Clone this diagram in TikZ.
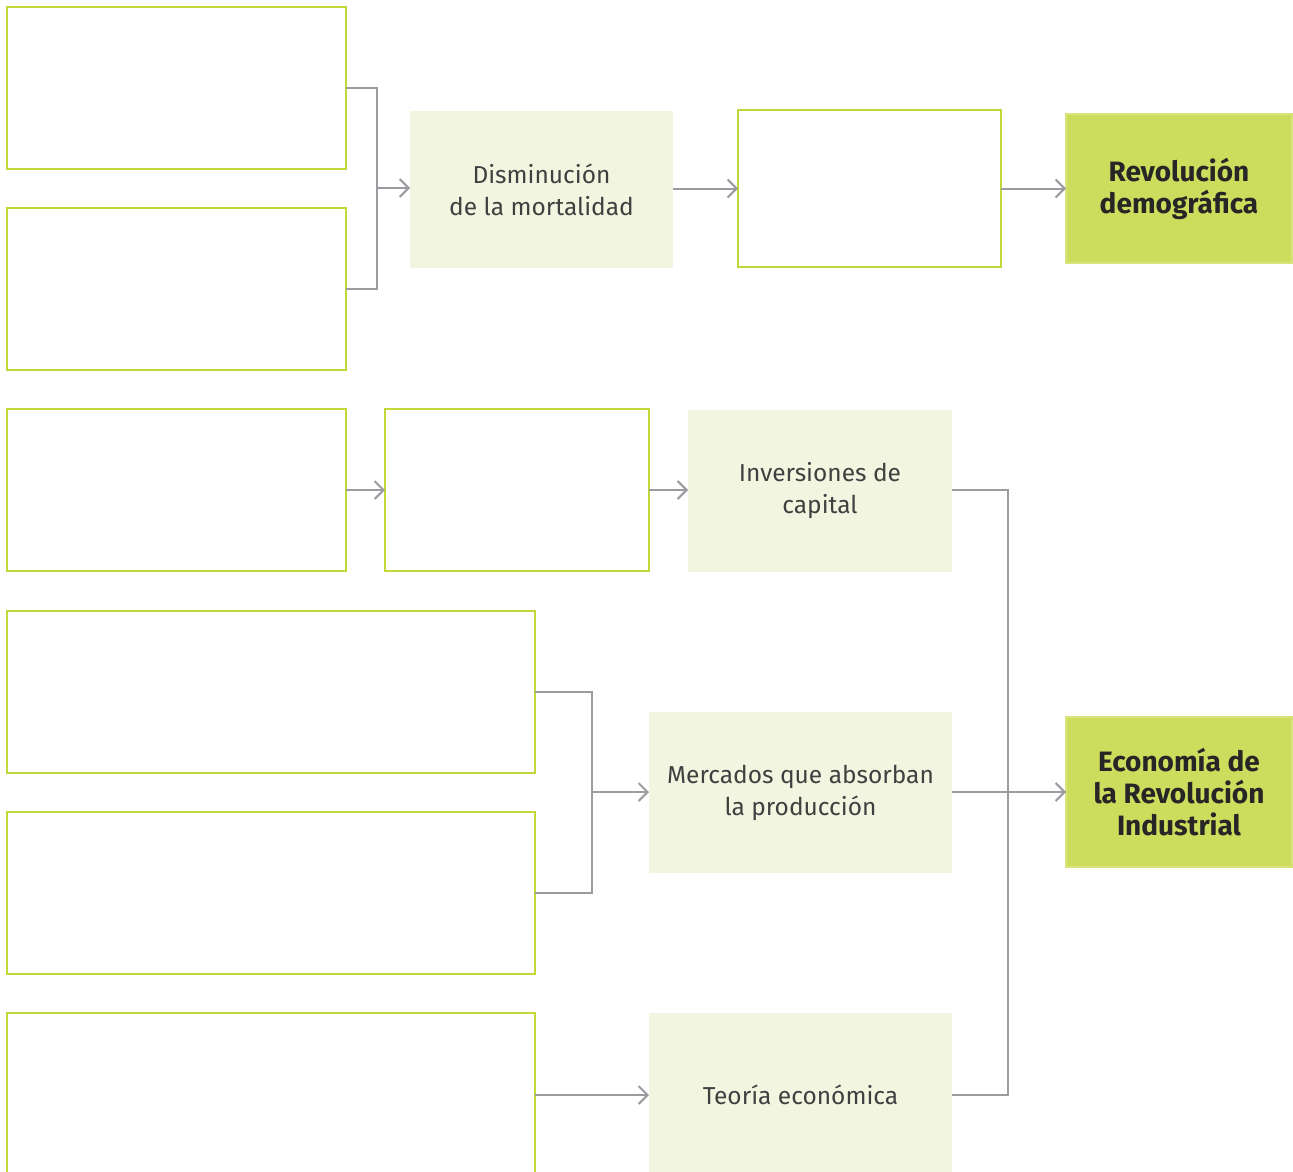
\documentclass[tikz,border=0pt]{standalone}
\usepackage{fontspec}
\setmainfont{Fira Sans}
\usetikzlibrary{arrows.meta}
\definecolor{gborder}{HTML}{C3D838}
\definecolor{lightfill}{HTML}{F2F6E0}
\definecolor{darkfill}{HTML}{CCDC5C}
\definecolor{darkborder}{HTML}{D6E47A}
\definecolor{lgray}{HTML}{9B9BA0}
\begin{document}
\begin{tikzpicture}[x=1pt,y=-1pt,
  every node/.style={outer sep=0pt,inner sep=0pt,anchor=north west},
  emptybox/.style={draw=gborder,line width=2pt,fill=white},
  softbox/.style={fill=lightfill,draw=none,align=center,font=\fontsize{24.5}{32}\selectfont\color{black!75}},
  strongbox/.style={fill=darkfill,draw=darkborder,line width=1.5pt,align=center,font=\fontsize{28}{32}\selectfont\bfseries\color{black!85}},
  conn/.style={draw=lgray,line width=2pt},
  arr/.style={conn,-{Straight Barb[length=9pt,width=18pt,line width=2pt]}}]
\useasboundingbox (0,0) rectangle (1293,1172);
% row 1
\node[emptybox,minimum width=339pt,minimum height=162pt] (a1) at (7,7) {};
\node[emptybox,minimum width=339pt,minimum height=162pt] (a2) at (7,208) {};
\node[softbox,minimum width=263pt,minimum height=157pt] (dis) at (410,111) {Disminución\\de la mortalidad};
\node[emptybox,minimum width=263pt,minimum height=157pt] (w1) at (738,110) {};
\node[strongbox,minimum width=226pt,minimum height=149pt] (rev) at (1066,114) {Revolución\\demográfica};
\coordinate (j1) at (377,188);
\draw[conn] (a1.east) -| (j1) |- (a2.east);
\draw[arr] (j1) -- (j1 -| dis.west);
\draw[arr] (w1.west -| dis.east) -- (w1.west);
\draw[arr] (w1.east) -- (w1.east -| rev.west);
% row 2
\node[emptybox,minimum width=339pt,minimum height=162pt] (b1) at (7,409) {};
\node[emptybox,minimum width=264pt,minimum height=162pt] (b2) at (385,409) {};
\node[softbox,minimum width=264pt,minimum height=162pt] (inv) at (688,410) {Inversiones de\\capital};
\draw[arr] (b1.east) -- (b1.east -| b2.west);
\draw[arr] (b2.east) -- (b2.east -| inv.west);
% lower rows
\node[emptybox,minimum width=528pt,minimum height=162pt] (c1) at (7,611) {};
\node[emptybox,minimum width=528pt,minimum height=162pt] (c2) at (7,812) {};
\node[emptybox,minimum width=528pt,minimum height=164pt] (c3) at (7,1013) {};
\node[softbox,minimum width=303pt,minimum height=161pt] (mer) at (649,712) {Mercados que absorban\\la producción};
\node[softbox,minimum width=303pt,minimum height=164pt] (teo) at (649,1013) {Teoría económica};
\node[strongbox,minimum width=226pt,minimum height=150pt] (eco) at (1066,717) {Economía de\\la Revolución\\Industrial};
\coordinate (j2) at (592,792);
\draw[conn] (c1.east) -| (j2) |- (c2.east);
\draw[arr] (j2) -- (j2 -| mer.west);
\draw[arr] (c3.east) -- (c3.east -| teo.west);
\coordinate (j3) at (1008,490);
\draw[conn] (inv.east |- b2.east) -| (j3 |- teo.east) -- (teo.east |- c3.east);
\draw[arr] (eco.west -| mer.east) -- (eco.west);
\end{tikzpicture}
\end{document}
